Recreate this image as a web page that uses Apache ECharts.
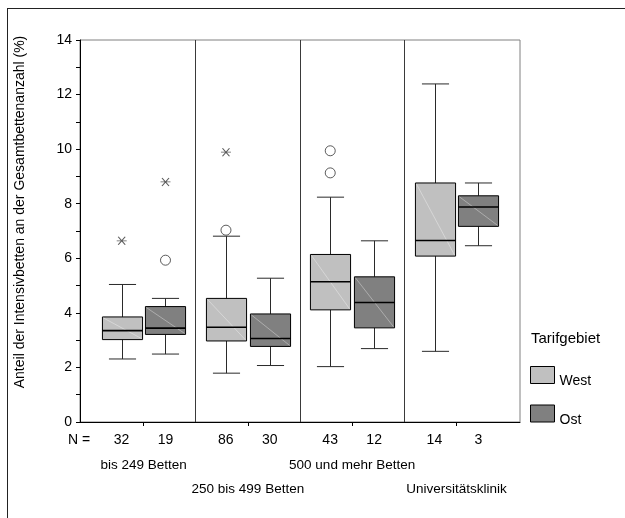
<!DOCTYPE html>
<html>
<head>
<meta charset="utf-8">
<script src="https://cdn.jsdelivr.net/npm/echarts@6/dist/echarts.min.js"></script>
<style>
  html, body { margin: 0; padding: 0; background: #fff; }
  #boxChart { width: 625px; height: 518px; }
</style>
</head>
<body>
<div id="boxChart"></div>
<script>
// Kategorien (Bettenklassen) und Fallzahlen
var categories = ['bis 249 Betten', '250 bis 499 Betten', '500 und mehr Betten', 'Universitätsklinik'];
var nWest = [32, 86, 43, 14];
var nOst = [19, 30, 12, 3];

// [min, Q1, Median, Q3, max] je Kategorie
var westStats = [
    [2.31, 3.02, 3.35, 3.85, 5.04],
    [1.79, 2.97, 3.47, 4.53, 6.81],
    [2.03, 4.11, 5.14, 6.14, 8.24],
    [2.59, 6.08, 6.65, 8.76, 12.39]
];
var ostStats = [
    [2.49, 3.21, 3.44, 4.23, 4.53],
    [2.07, 2.77, 3.06, 3.96, 5.27],
    [2.69, 3.45, 4.38, 5.32, 6.64],
    [6.46, 7.17, 7.88, 8.29, 8.76]
];

// Ausreisser (Kreis) und Extremwerte (Stern): [Kategorie, Wert]
var westOutliers = [[1, 7.03], [2, 9.94], [2, 9.13]];
var westExtremes = [[0, 6.64], [1, 9.89]];
var ostOutliers = [[0, 5.93]];
var ostExtremes = [[0, 8.80]];

var yTicks = [0, 2, 4, 6, 8, 10, 12, 14];

var BOX_OFF = 0.21;   // Abstand Box-Mitte zur Kategorie-Mitte
var BOX_W = 0.385;
var CAP_W = 0.26;
var X_MIN = -0.61, X_MAX = 3.61;
var FONT = 'Liberation Sans, Arial, sans-serif';

function renderBox(offset) {
    return function (params, api) {
        var c = api.value(0) + offset;
        var lo = api.coord([c, api.value(1)]);
        var q1 = api.coord([c, api.value(2)]);
        var med = api.coord([c, api.value(3)]);
        var q3 = api.coord([c, api.value(4)]);
        var hi = api.coord([c, api.value(5)]);
        var half = api.size([BOX_W, 0])[0] / 2;
        var cap = api.size([CAP_W, 0])[0] / 2;
        var x = Math.round(lo[0]) + 0.5;
        var fill = api.visual('color');
        var line = { stroke: '#2a2a2a', lineWidth: 1 };
        return {
            type: 'group',
            children: [
                { type: 'line', shape: { x1: x, y1: hi[1], x2: x, y2: q3[1] }, style: line },
                { type: 'line', shape: { x1: x, y1: q1[1], x2: x, y2: lo[1] }, style: line },
                { type: 'line', shape: { x1: x - cap, y1: hi[1], x2: x + cap, y2: hi[1] }, style: line },
                { type: 'line', shape: { x1: x - cap, y1: lo[1], x2: x + cap, y2: lo[1] }, style: line },
                {
                    type: 'rect',
                    shape: { x: x - half, y: q3[1], width: half * 2, height: q1[1] - q3[1] },
                    style: { fill: fill, stroke: '#000', lineWidth: 1 }
                },
                {
                    type: 'line',
                    shape: { x1: x - half + 1, y1: q3[1] + 1, x2: x + half - 1, y2: q1[1] - 1 },
                    style: { stroke: 'rgba(255,255,255,0.35)', lineWidth: 1 }
                },
                {
                    type: 'line',
                    shape: { x1: x - half, y1: med[1], x2: x + half, y2: med[1] },
                    style: { stroke: '#000', lineWidth: 1.6 }
                }
            ]
        };
    };
}

function withStats(stats) {
    return stats.map(function (s, i) { return [i].concat(s); });
}
function shifted(points, off) {
    return points.map(function (p) { return [p[0] + off, p[1]]; });
}

// zusätzliche x-Achse nur für eine Zeile der Kategorienamen
function nameAxis(values, margin) {
    return {
        type: 'value',
        position: 'bottom',
        min: X_MIN,
        max: X_MAX,
        axisLine: { show: false },
        axisTick: { show: false },
        splitLine: { show: false },
        axisLabel: {
            customValues: values,
            showMinLabel: true,
            showMaxLabel: true,
            margin: margin,
            fontSize: 13.5,
            color: '#000',
            fontFamily: FONT,
            formatter: function (v) { return categories[Math.round(v)]; }
        }
    };
}

var asterisk = 'path://M0,4L10,4M1.5,0L8.5,8M1.5,8L8.5,0';

var myChart = echarts.init(document.getElementById('boxChart'));
var options = {
    animation: false,
    textStyle: { fontFamily: FONT },
    grid: { left: 80, right: 105, top: 40, bottom: 96, show: true, borderColor: '#808080', borderWidth: 1 },
    legend: {
        orient: 'vertical',
        left: 530,
        top: 366,
        padding: 0,
        itemWidth: 24,
        itemHeight: 17,
        itemGap: 16,
        icon: 'rect',
        formatter: '{t|{name}}',
        textStyle: {
            fontSize: 14, color: '#000', fontFamily: FONT,
            rich: { t: { fontSize: 14, color: '#000', fontFamily: FONT, padding: [13, 0, 0, 0] } }
        },
        data: [
            { name: 'West', itemStyle: { color: '#c0c0c0', borderColor: '#000', borderWidth: 1 } },
            { name: 'Ost', itemStyle: { color: '#808080', borderColor: '#000', borderWidth: 1 } }
        ]
    },
    title: {
        text: 'Tarifgebiet',
        left: 526,
        top: 326,
        textStyle: { fontSize: 15, fontWeight: 'normal', color: '#000', fontFamily: FONT }
    },
    xAxis: [{
        type: 'value',
        position: 'bottom',
        min: X_MIN,
        max: X_MAX,
        splitLine: { show: false },
        axisLine: { onZero: false, lineStyle: { color: '#000', width: 1 } },
        axisTick: { customValues: [0, 1, 2, 3], length: 4, lineStyle: { color: '#000' } },
        axisLabel: {
            customValues: [0, 1, 2, 3],
            showMinLabel: true,
            showMaxLabel: true,
            margin: 11,
            color: '#000',
            formatter: function (v) {
                var i = Math.round(v);
                return '{n|' + nWest[i] + '}{n|' + nOst[i] + '}';
            },
            rich: {
                n: { width: 44, align: 'center', fontSize: 14, color: '#000', fontFamily: FONT }
            }
        }
    },
        nameAxis([0, 2], 36),
        nameAxis([1, 3], 60)
    ],
    yAxis: {
        type: 'value',
        min: 0,
        max: 14,
        interval: 2,
        splitLine: { show: false },
        axisLine: { show: true, onZero: false, lineStyle: { color: '#000' } },
        axisTick: { show: true, length: 4, lineStyle: { color: '#000' } },
        minorTick: { show: true, splitNumber: 2, length: 4, lineStyle: { color: '#000' } },
        axisLabel: {
            margin: 8,
            fontSize: 14,
            color: '#000',
            formatter: function (v) { return yTicks.indexOf(v) >= 0 ? String(v) : ''; }
        }
    },
    graphic: [
        { type: 'line', shape: { x1: 7, y1: 8.5, x2: 625, y2: 8.5 }, style: { stroke: '#222', lineWidth: 1 } },
        { type: 'line', shape: { x1: 7.5, y1: 8, x2: 7.5, y2: 518 }, style: { stroke: '#222', lineWidth: 1 } },
        {
            type: 'text',
            x: 20,
            y: 212,
            rotation: Math.PI / 2,
            style: {
                text: 'Anteil der Intensivbetten an der Gesamtbettenanzahl (%)',
                align: 'center',
                verticalAlign: 'middle',
                font: '14px ' + FONT,
                fill: '#000'
            }
        },
        {
            type: 'text',
            x: 68,
            y: 440,
            style: { text: 'N =', verticalAlign: 'middle', font: '14px ' + FONT, fill: '#000' }
        }
    ],
    series: [
        {
            name: 'West',
            type: 'custom',
            xAxisIndex: 0,
            renderItem: renderBox(-BOX_OFF),
            itemStyle: { color: '#c0c0c0', borderColor: '#000', borderWidth: 1 },
            encode: { x: 0, y: [1, 2, 3, 4, 5] },
            data: withStats(westStats),
            markLine: {
                silent: true,
                symbol: 'none',
                label: { show: false },
                lineStyle: { color: '#3a3a3a', type: 'solid', width: 1 },
                data: categories.slice(1).map(function (c, i) { return { xAxis: i + 0.5 }; })
            }
        },
        {
            name: 'Ost',
            type: 'custom',
            xAxisIndex: 0,
            renderItem: renderBox(BOX_OFF),
            itemStyle: { color: '#808080', borderColor: '#000', borderWidth: 1 },
            encode: { x: 0, y: [1, 2, 3, 4, 5] },
            data: withStats(ostStats)
        },
        {
            name: 'Ausreisser',
            type: 'scatter',
            xAxisIndex: 0,
            symbol: 'circle',
            symbolSize: 10,
            itemStyle: { color: '#fff', borderColor: '#333', borderWidth: 1 },
            data: shifted(westOutliers, -BOX_OFF).concat(shifted(ostOutliers, BOX_OFF))
        },
        {
            name: 'Extremwerte',
            type: 'scatter',
            xAxisIndex: 0,
            symbol: asterisk,
            symbolSize: [10, 8],
            itemStyle: { color: 'none', borderColor: '#333', borderWidth: 1 },
            data: shifted(westExtremes, -BOX_OFF).concat(shifted(ostExtremes, BOX_OFF))
        }
    ]
};
myChart.setOption(options);
</script>
</body>
</html>
